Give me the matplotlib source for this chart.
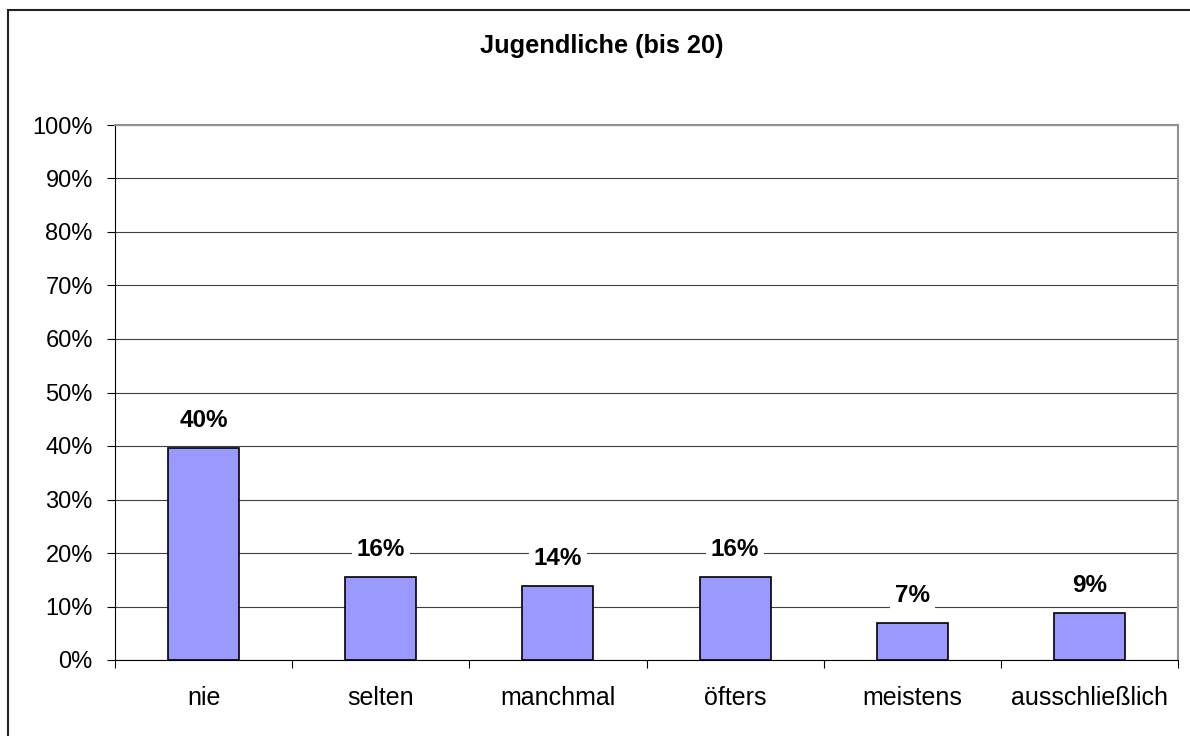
import numpy as np
import matplotlib
matplotlib.use("Agg")
import matplotlib.pyplot as plt
from matplotlib.patches import Rectangle

# Daten
categories = ["nie", "selten", "manchmal", "öfters", "meistens", "ausschließlich"]
values = [39.6, 15.5, 13.8, 15.5, 6.9, 8.7]
value_labels = ["40%", "16%", "14%", "16%", "7%", "9%"]
yticks = [0, 10, 20, 30, 40, 50, 60, 70, 80, 90, 100]
title = "Jugendliche (bis 20)"

plt.rcParams['font.family'] = ['Liberation Sans', 'DejaVu Sans']

fig = plt.figure(figsize=(11.9, 7.36), dpi=100)
ax = fig.add_axes([115 / 1190, 1 - 660 / 736, (1178 - 115) / 1190, (660 - 125) / 736])

x = np.arange(len(categories))
ax.bar(x, values, width=0.4, color='#9999FF', edgecolor='black', linewidth=1.2, zorder=3)

# Beschriftungen mit weißem Hintergrund über den Gitterlinien
for xi, v, lab in zip(x, values, value_labels):
    ax.annotate(lab, (xi, v), xytext=(0, 20), textcoords='offset points',
                ha='center', va='center', fontsize=17.5, fontweight='bold',
                bbox=dict(facecolor='white', edgecolor='none', pad=3.5), zorder=4)

ax.set_ylim(0, 100)
ax.set_xlim(-0.5, len(categories) - 0.5)
ax.set_yticks(yticks)
ax.set_yticklabels([f"{t}%" for t in yticks], fontsize=17)
ax.yaxis.grid(True, color='#404040', linewidth=0.8, zorder=0)
ax.set_axisbelow(True)

# Kategorien: Striche an den Grenzen, Text in der Mitte
ax.set_xticks(np.arange(-0.5, len(categories), 1.0))
ax.set_xticklabels([])
ax.set_xticks(x, minor=True)
ax.set_xticklabels(categories, minor=True, fontsize=18)
ax.tick_params(axis='x', which='minor', length=0, pad=19)
ax.tick_params(axis='x', which='major', length=6, width=0.8, direction='out')
ax.tick_params(axis='y', length=6, width=0.8, direction='out', pad=10)

for s in ['top', 'right']:
    ax.spines[s].set_color('#909090')
    ax.spines[s].set_linewidth(1.5)
for s in ['left', 'bottom']:
    ax.spines[s].set_color('black')
    ax.spines[s].set_linewidth(0.8)

fig.text(602 / 1190, 1 - 46 / 736, title, ha='center', va='center',
         fontsize=18.3, fontweight='bold')

# äußerer Rahmen
fig.patches.append(Rectangle((8 / 1190, -0.1), 1.2, 1 - 10 / 736 + 0.1,
                             transform=fig.transFigure, fill=False,
                             edgecolor='#222222', linewidth=1.5))

fig.savefig("out.png", dpi=100)
